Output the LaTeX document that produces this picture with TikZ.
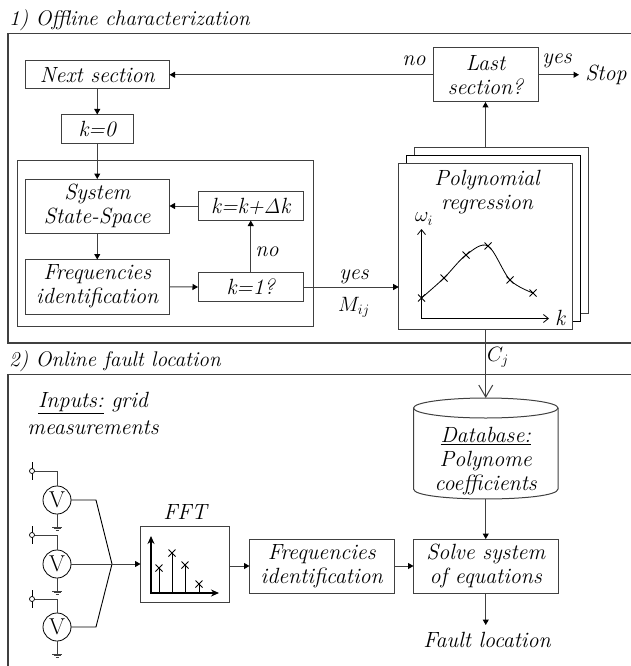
\documentclass[tikz,border=0pt]{standalone}
\usepackage[no-math]{fontspec}
\usetikzlibrary{arrows.meta}
\definecolor{ln}{gray}{0.25}
\newcommand{\xmark}[2]{\draw[black,line width=0.9pt] (#1-3.5,#2-3.5) -- (#1+3.5,#2+3.5) (#1-3.5,#2+3.5) -- (#1+3.5,#2-3.5);}
\newcommand{\gnd}[1]{\draw[ln,line width=0.8pt] (#1.south) -- ++(0,13) coordinate (g);
 \draw[ln,line width=0.9pt] ([xshift=-5pt]g) -- ([xshift=5pt]g) ([xshift=-3.5pt,yshift=-1.5pt]g) -- ([xshift=3.5pt,yshift=-1.5pt]g) ([xshift=-1.5pt,yshift=-3pt]g) -- ([xshift=1.5pt,yshift=-3pt]g);}
\newcommand{\probe}[2]{\coordinate (t) at (32,#2);
 \draw[ln,line width=0.8pt] (#1.north) |- (t);
 \draw[black,line width=0.7pt] (32,#2-9) -- (32,#2+9);
 \draw[black,line width=0.7pt,fill=white] (t) circle (2.5);}
\tikzset{
 x=1pt,y=-1pt,
 txt/.style={font=\fontsize{22}{24}\selectfont\itshape,inner sep=0pt,align=center},
 head/.style={font=\fontsize{21.2}{24}\selectfont\itshape,inner sep=0pt,anchor=west},
 mlike/.style={font=\fontsize{20}{20}\selectfont,inner sep=0pt},
 box/.style={txt,draw=ln,line width=1pt,fill=white,outer sep=0pt},
 arr/.style={ln,line width=1pt,-{Stealth[length=5.5pt,width=6pt,inset=0pt,color=black]}},
 frame/.style={ln,line width=1.2pt},
 volt/.style={circle,draw=black,line width=0.8pt,minimum size=28pt,inner sep=0pt,outer sep=0pt,font=\fontsize{23}{23}\selectfont},
}
\begin{document}
\begin{tikzpicture}
\useasboundingbox (0,0) rectangle (631,666);
\begin{scope}
\clip (0,0) rectangle (631,666);
% frames
\draw[frame] (631,33.5) -- (8,33.5) -- (8,343) -- (631,343);
\draw[frame] (631,374.5) -- (8,374.5) -- (8,666);
\node[head] (t1) at (9,20) {1) Offline characterization};
\node[head] (t2) at (9,361) {2) Online fault location};
% inner loop frame
\draw[ln,line width=1pt] (17,160.5) rectangle (313,326);
% upper flow
\node[box,minimum width=144.5,minimum height=28.5] (next) at (97.25,74.75) {Next section};
\node[box,minimum width=71.5,minimum height=28.5] (k0) at (97.25,128.75) {k=0};
\node[box,minimum width=144.5,minimum height=54] (sys) at (97.25,206) {System\\State-Space};
\node[box,minimum width=105.5,minimum height=29] (kk) at (250.75,206) {k=k+$\mathit{\Delta}$k};
\node[box,minimum width=144.5,minimum height=54.5] (freq) at (97.25,286.75) {Frequencies\\identification};
\node[box,minimum width=105.5,minimum height=29] (k1) at (250.75,287) {k=1?};
\node[box,minimum width=105,minimum height=54.5] (last) at (485.5,74.75) {Last\\section?};
\node[txt] (stop) at (606,75) {Stop};
\coordinate (stopin) at (579,74.75);
\node[txt] (no1) at (414,61) {no};
\node[txt] (yes1) at (557,61) {yes};
\node[txt] (no2) at (267,252) {no};
\node[txt] (yes2) at (354,277) {yes};
\node[mlike] (mij) at (354,307) {$M_{ij}$};
% stacked polynomial boxes
\node[box,minimum width=174,minimum height=166] (p3) at (501,230) {};
\node[box,minimum width=174,minimum height=166,draw=black] (p2) at (493.5,238) {};
\node[box,minimum width=174,minimum height=166.5] (p1) at (485.7,246.7) {};
\node[txt] (ptext) at (487,192) {Polynomial\\regression};
% plot
\draw[black,line width=0.8pt,{Straight Barb[length=5pt,width=8pt]}-{Straight Barb[length=5pt,width=8pt]}] (421.5,229) -- (421.5,318.5) -- (549,318.5);
\node[font=\fontsize{20}{20}\selectfont,inner sep=0pt] (om) at (424,219) {$\omega_i$};
\node[txt] (kx) at (560,318) {k};
\draw[black,line width=0.8pt] plot[smooth,tension=0.55] coordinates {(421.5,298) (444,278) (466,255) (488,246) (510,280) (533,293)};
\xmark{421.5}{298}\xmark{444}{278}\xmark{466}{255}\xmark{488}{246}\xmark{510}{280}\xmark{533}{293}
% lower section
\node[txt] (inp) at (93,403) {\underline{Inputs:} grid};
\node[txt] (meas) at (93,428) {measurements};
\node[volt] (v1) at (57,500) {V};
\node[volt] (v2) at (57,564) {V};
\node[volt] (v3) at (57,627) {V};
\coordinate (fan) at (112,564);
\coordinate (b1) at (96,500);
\coordinate (b3) at (96,627);
\node[box,minimum width=89,minimum height=76] (fft) at (185,564) {};
\node[txt] (ffttxt) at (185,512) {FFT};
\node[box,minimum width=144.5,minimum height=54] (freq2) at (321.75,566) {Frequencies\\identification};
\node[box,minimum width=144.5,minimum height=54] (solve) at (485.75,566) {Solve system\\of equations};
\node[txt] (fault) at (487,640) {Fault location};
\coordinate (faultin) at (485.75,625);
% database cylinder
\coordinate (dbtop) at (485.75,398);
\coordinate (dbbot) at (485.75,499);
\draw[ln,line width=1pt,fill=white] (413.5,408) -- (413.5,489) .. controls (413.5,502.3) and (558,502.3) .. (558,489) -- (558,408);
\draw[ln,line width=1pt,fill=white] (485.75,408) circle[x radius=72.25pt,y radius=10pt];
\node[txt] (dbtxt) at (485.75,461) {\underline{Database:}\\Polynome\\coefficients};
\node[mlike] (cj) at (498,357) {$C_{j}$};
% FFT plot
\draw[black,line width=1.2pt,-{Stealth[length=8pt,width=7pt]}] (151,593) -- (151,536);
\draw[black,line width=1.2pt,-{Stealth[length=8pt,width=7pt]}] (150.4,593) -- (219,593);
\foreach \xx/\yy in {159/568,172/553,185/565,199/584}{
 \draw[black,line width=0.9pt] (\xx,593) -- (\xx,\yy);
 \xmark{\xx}{\yy}
}
% connectors
\draw[arr] (last.west) -- (next.east);
\draw[arr] (next.south) -- (k0.north);
\draw[arr] (k0.south) -- (sys.north);
\draw[arr] (sys.south) -- (freq.north);
\draw[arr] (freq.east) -- (k1.west);
\draw[arr] (k1.north) -- (kk.south);
\draw[arr] (kk.west) -- (sys.east);
\draw[arr] (k1.east) -- (k1.east -| p1.west);
\draw[arr] (last.east) -- (stopin);
\draw[arr] (p3.north -| last.south) -- (last.south);
\draw[ln,line width=1pt,-{Straight Barb[length=12pt,width=14pt]}] (p1.south -| dbtop) -- (dbtop);
\draw[arr] (dbbot) -- (solve.north);
\draw[arr] (solve.south) -- (faultin);
\draw[arr] (freq2.east) -- (solve.west);
\draw[arr] (fft.east |- freq2.west) -- (freq2.west);
\draw[black,line width=0.9pt] (v1.east) -- (b1) -- (fan);
\draw[black,line width=0.9pt] (v3.east) -- (b3) -- (fan);
\draw[arr,line width=0.9pt] (v2.east) -- (fft.west);
% meters
\probe{v1}{471}\probe{v2}{535}\probe{v3}{599}
\gnd{v1}\gnd{v2}\gnd{v3}
\end{scope}
\end{tikzpicture}
\end{document}
